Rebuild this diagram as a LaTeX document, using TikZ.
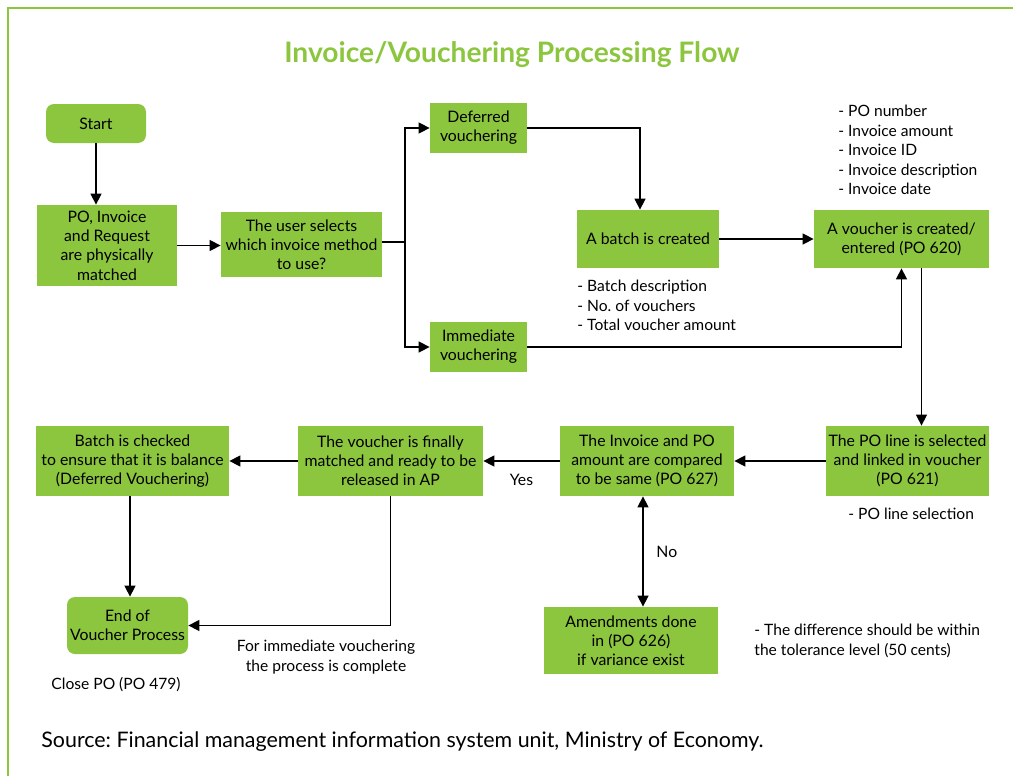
\documentclass[tikz,border=0pt]{standalone}
\usepackage{fontspec}
\setmainfont{Lato}
\frenchspacing
\usetikzlibrary{arrows.meta}
\definecolor{leaf}{HTML}{8CC63F}
\tikzset{
  stepbox/.style={fill=leaf, inner sep=1pt, align=center, font=\fontsize{7.9}{9.6}\selectfont},
  endbox/.style={stepbox, rounded corners=4pt},
  flow/.style={-{Triangle[length=5.5pt,width=5.5pt]}, line width=0.75pt},
  flowboth/.style={{Triangle[length=5.5pt,width=5.5pt]}-{Triangle[length=5.5pt,width=5.5pt]}, line width=0.75pt},
  note/.style={align=left, inner sep=0pt, font=\fontsize{7.8}{9.7}\selectfont}
}
\begin{document}
\begin{tikzpicture}[x=0.5pt,y=-0.5pt]
  \useasboundingbox (0,0) rectangle (1013,776);
  \draw[leaf, line width=1pt] (1013,8) -- (8,8) -- (8,776);

  \node (title) at (512,55) {\fontsize{14.1}{16}\selectfont\bfseries\color{leaf}Invoice/Vouchering Processing Flow};

  % boxes of the flow
  \node[endbox, minimum width=50pt, minimum height=19.5pt] (start) at (96,123.5) {Start};
  \node[stepbox, minimum width=70pt, minimum height=40.5pt] (matched) at (107,245.5) {PO, Invoice\\and Request\\are physically\\matched};
  \node[stepbox, minimum width=80.5pt, minimum height=32.5pt] (select) at (301.5,244.5) {The user selects\\which invoice method\\to use?};
  \node[stepbox, minimum width=48.5pt, minimum height=25pt] (deferred) at (478.5,128) {Deferred\\vouchering};
  \node[stepbox, minimum width=48.5pt, minimum height=25pt] (immediate) at (478.5,347) {Immediate\\vouchering};
  \node[stepbox, minimum width=71pt, minimum height=29pt] (batch) at (648,239) {A batch is created};
  \node[stepbox, minimum width=87.5pt, minimum height=29pt] (voucher) at (901.5,239) {A voucher is created/\\entered (PO 620)};
  \node[stepbox, minimum width=81.5pt, minimum height=35pt] (poline) at (907.5,461) {The PO line is selected\\and linked in voucher\\(PO 621)};
  \node[stepbox, minimum width=87pt, minimum height=35pt] (compare) at (647,461) {The Invoice and PO\\amount are compared\\to be same (PO 627)};
  \node[stepbox, minimum width=87pt, minimum height=33.5pt] (amend) at (631,640.5) {Amendments done\\in (PO 626)\\if variance exist};
  \node[stepbox, minimum width=92.5pt, minimum height=35pt] (final) at (390.5,461) {The voucher is finally\\matched and ready to be\\released in AP};
  \node[stepbox, minimum width=96.5pt, minimum height=35pt] (checked) at (132.5,461) {Batch is checked\\to ensure that it is balance\\(Deferred Vouchering)};
  \node[endbox, minimum width=60.5pt, minimum height=28.5pt] (endp) at (127.5,625.5) {End of\\Voucher Process};

  % notes
  \node[note, anchor=north west] (poinfo) at (838,105) {- PO number\\- Invoice amount\\- Invoice ID\\- Invoice description\\- Invoice date};
  \node[note, anchor=north west] (batchinfo) at (577,280) {- Batch description\\- No. of vouchers\\- Total voucher amount};
  \node[note, anchor=west] (lineinfo) at (848,514) {- PO line selection};
  \node[note, anchor=north west] (tolerance) at (754,624) {- The difference should be within\\the tolerance level (50 cents)};
  \node[note, align=center] (complete) at (326,657) {For immediate vouchering\\the process is complete};
  \node[note] (closepo) at (116,685) {Close PO (PO 479)};
  \node[anchor=west, inner sep=0pt] (source) at (41,742) {\fontsize{10.7}{13}\selectfont Source: Financial management information system unit, Ministry of Economy.};

  % connectors
  \coordinate (fork) at (405,242);
  \draw[flow] (start.south) -- (start.south |- matched.north);
  \draw[flow] (matched.east) -- (matched.east -| select.west);
  \draw[line width=0.75pt] (select.east |- fork) -- (fork);
  \draw[flow] (fork) |- (deferred.west);
  \draw[flow] (fork) |- (immediate.west);
  \draw[flow] (deferred.east) -| ([xshift=-4pt]batch.north);
  \draw[flow] (batch.east) -- (voucher.west);
  \draw[flow] (immediate.east) -| (voucher.south);
  \draw[flow] ([xshift=10pt]voucher.south) -- ([xshift=10pt]voucher.south |- poline.north);
  \draw[flow] (poline.west) -- (compare.east);
  \draw[flow] (compare.west) -- node[midway, below=3pt, font=\fontsize{7.9}{9.6}\selectfont] {Yes} (final.east);
  \draw[flowboth] (compare.south -| 643,0) -- node[midway, right=3pt, font=\fontsize{7.9}{9.6}\selectfont] {No} (amend.north -| 643,0);
  \draw[flow] (final.west) -- (checked.east);
  \draw[flow] (checked.south -| 130,0) -- (endp.north -| 130,0);
  \draw[flow] (final.south) |- (endp.east);
\end{tikzpicture}
\end{document}
